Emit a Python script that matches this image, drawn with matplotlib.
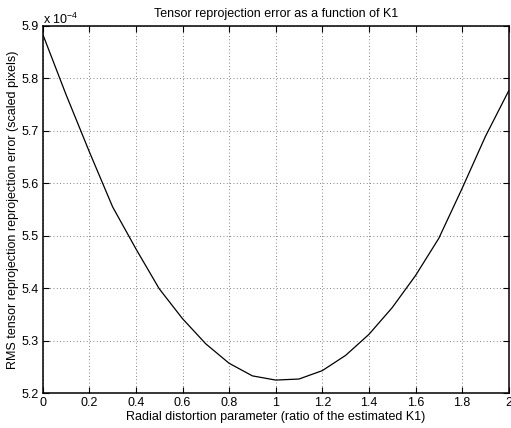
import matplotlib
matplotlib.use("Agg")
import matplotlib.pyplot as plt
import numpy as np

plt.rcParams['font.family'] = ['Liberation Sans', 'DejaVu Sans']
plt.rcParams['mathtext.fontset'] = 'custom'
plt.rcParams['mathtext.rm'] = 'Liberation Sans'
plt.rcParams['mathtext.it'] = 'Liberation Sans'

# Data
k1_ratio = [0.0, 0.1, 0.2, 0.3, 0.4, 0.5, 0.6, 0.7, 0.8, 0.9, 1.0,
            1.1, 1.2, 1.3, 1.4, 1.5, 1.6, 1.7, 1.8, 1.9, 2.0]
rms_error_e4 = [5.884, 5.769, 5.660, 5.555, 5.475, 5.399, 5.342, 5.294, 5.257, 5.233, 5.225,
                5.227, 5.243, 5.272, 5.312, 5.363, 5.424, 5.495, 5.590, 5.689, 5.776]
x_ticks = [0, 0.2, 0.4, 0.6, 0.8, 1, 1.2, 1.4, 1.6, 1.8, 2]
x_tick_labels = ['0', '0.2', '0.4', '0.6', '0.8', '1', '1.2', '1.4', '1.6', '1.8', '2']
y_ticks = [5.2, 5.3, 5.4, 5.5, 5.6, 5.7, 5.8, 5.9]
y_tick_labels = ['5.2', '5.3', '5.4', '5.5', '5.6', '5.7', '5.8', '5.9']

W, H = 511, 428
fs = 9
fig = plt.figure(figsize=(W / 100, H / 100), dpi=100)
ax = fig.add_axes([42.7 / W, (H - 393.2) / H, 466.0 / W, 367.5 / H])

ax.plot(k1_ratio, rms_error_e4, color='black', lw=0.9)
ax.set_xlim(0, 2)
ax.set_ylim(5.2, 5.9)
ax.set_xticks(x_ticks)
ax.set_xticklabels(x_tick_labels)
ax.set_yticks(y_ticks)
ax.set_yticklabels(y_tick_labels)

ax.grid(True, color='0.35', linestyle=(0, (1, 3)), lw=0.6)
ax.tick_params(direction='in', length=4, width=0.8, top=True, right=True,
               labelsize=fs, pad=3, colors='black')
for s in ax.spines.values():
    s.set_linewidth(1.1)
    s.set_color('black')

ax.set_title('Tensor reprojection error as a function of K1', fontsize=fs, pad=6)
ax.set_xlabel('Radial distortion parameter (ratio of the estimated K1)', fontsize=fs, labelpad=1)
fig.text(13.5 / W, 0.5 * ((H - 393.2) / H + (H - 25.7) / H),
         'RMS tensor reprojection reprojection error (scaled pixels)',
         rotation=90, ha='center', va='center', fontsize=fs)
fig.text(43 / W, 1 - 19.5 / H, r'x 10$^{-4}$', ha='left', va='center', fontsize=fs)

fig.savefig('out.png', dpi=100)
